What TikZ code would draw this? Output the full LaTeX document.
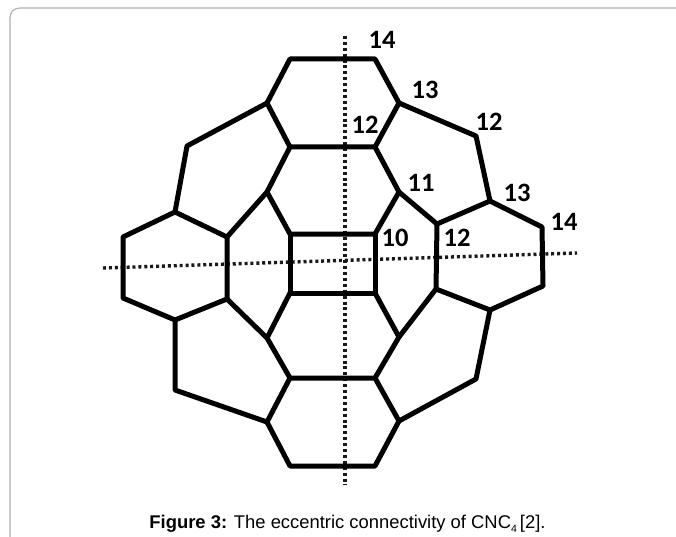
\documentclass[tikz,border=0pt]{standalone}
\usepackage{fontspec}
\setmainfont{Liberation Sans}
\newfontfamily\lblfont{Carlito}
\tikzset{
  bond/.style={draw=black,line width=5pt,line join=round,line cap=round},
  axisline/.style={draw=black!90,line width=3.4pt,dash pattern=on 3pt off 2.9pt},
  frameline/.style={draw=black!30,line width=1.2pt},
  num/.style={font=\lblfont\fontsize{26.5}{26.5}\selectfont\bfseries,inner sep=0pt,text=black},
  captext/.style={font=\fontsize{18.4}{20}\selectfont,inner sep=0pt,text=black}
}
\begin{document}
\begin{tikzpicture}[x=1pt,y=-1pt]
\useasboundingbox (0,0) rectangle (676,537);
\fill[white] (0,0) rectangle (676,537);
% frame
\coordinate (fa) at (10,537);
\coordinate (fb) at (10,18);
\coordinate (fc) at (20,8);
\coordinate (fd) at (676,8);
\draw[frameline] (fa) -- (fb) .. controls (10,12) and (14,8) .. (fc) -- (fd);
% axes
\coordinate (vt) at (345,36);
\coordinate (vb) at (345,485);
\coordinate (hl) at (103,268);
\coordinate (hr) at (577,253);
\draw[axisline] (vt) -- (vb);
\draw[axisline] (hl) -- (hr);
% vertices
\foreach \n/\x/\y in {
 a1/290/59,a2/375/59,b1/267/103,b2/399/103,c1/290/147,c2/375/147,
 d1/267/192,d2/399/192,e1/290/234,e2/375/234,f1/290/293,f2/375/293,
 g1/267/338,g2/399/337,h1/290/378,h2/375/378,i1/267/422,i2/399/421,
 j1/290/466,j2/375/466,
 k1/187/146,k2/476/136,
 l1/227/237,l2/175/212,l3/123/237,l4/123/298,l5/175/320,l6/227/299,
 m1/437/224,m2/490/201,m3/542/227,m4/543/286,m5/490/310,m6/436/289,
 n1/175/390,n2/476/379}
 {\coordinate (\n) at (\x,\y);}
% cells
\draw[bond] (a1) -- (a2) -- (b2) -- (c2) -- (c1) -- (b1) -- cycle;
\draw[bond] (c1) -- (d1) -- (e1) -- (e2) -- (d2) -- (c2);
\draw[bond] (e1) -- (f1) -- (f2) -- (e2);
\draw[bond] (f1) -- (g1) -- (h1) -- (h2) -- (g2) -- (f2);
\draw[bond] (h1) -- (i1) -- (j1) -- (j2) -- (i2) -- (h2);
\draw[bond] (l1) -- (l2) -- (l3) -- (l4) -- (l5) -- (l6) -- cycle;
\draw[bond] (m1) -- (m2) -- (m3) -- (m4) -- (m5) -- (m6) -- cycle;
\draw[bond] (b1) -- (k1) -- (l2);
\draw[bond] (d1) -- (l1);
\draw[bond] (l6) -- (g1);
\draw[bond] (l5) -- (n1) -- (i1);
\draw[bond] (b2) -- (k2) -- (m2);
\draw[bond] (d2) -- (m1);
\draw[bond] (m6) -- (g2);
\draw[bond] (m5) -- (n2) -- (i2);
% labels
\node[num] (t14a) at (382,40) {14};
\node[num] (t13a) at (425,90) {13};
\node[num] (t12a) at (489,122) {12};
\node[num] (t12b) at (365,125) {12};
\node[num] (t11) at (421,183) {11};
\node[num] (t13b) at (517,193) {13};
\node[num] (t14b) at (564,222) {14};
\node[num] (t10) at (395,238) {10};
\node[num] (t12c) at (457,238) {12};
\node[captext] (caption) at (347.5,524) {\textbf{Figure 3:} The eccentric connectivity of CNC{\fontsize{10.5}{11}\selectfont\raisebox{-4pt}{4}}\,[2].};
\end{tikzpicture}
\end{document}
